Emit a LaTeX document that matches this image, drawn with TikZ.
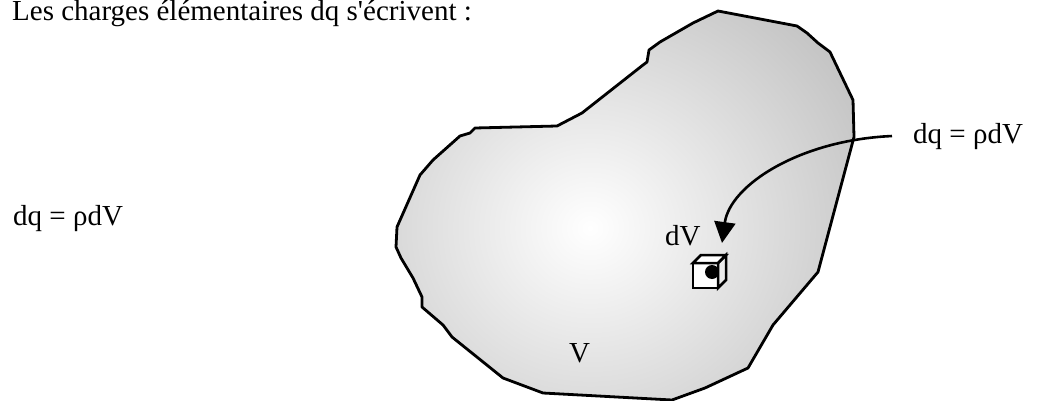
\documentclass[tikz,border=0pt]{standalone}
\usepackage{fontspec}
\setmainfont{Liberation Serif}
\usetikzlibrary{arrows.meta}
\begin{document}
\begin{tikzpicture}[x=1pt,y=-1pt,
  lbl/.style={inner sep=0pt, anchor=base west, font=\fontsize{29}{34}\selectfont},
  ttl/.style={inner sep=0pt, anchor=base west, font=\fontsize{29}{34}\selectfont},
  outline/.style={line width=2.8pt, line join=round},
  cubeline/.style={line width=2.5pt, line join=miter},
  conn/.style={line width=2.6pt, -{Triangle[length=21pt,width=21pt]}}]
\useasboundingbox (0,0) rectangle (1038,401);
% volume V
\path[draw, outline, path picture={
    \shade[inner color=white, outer color=black!25] (590,228) ellipse [x radius=330pt, y radius=310pt];}]
  (718,11) -- (797,26) -- (807,33) -- (818,43) -- (830,52) -- (853,100) -- (854,137)
  -- (818,272) -- (773,325) -- (748,368) -- (705,388) -- (672,400) -- (543,393)
  -- (503,378) -- (452,337) -- (443,325) -- (422,307) -- (422,297) -- (413,278)
  -- (401,258) -- (396,247) -- (397,227) -- (420,175) -- (433,160) -- (460,136)
  -- (470,133) -- (475,128) -- (557,126) -- (582,113) -- (643,65) -- (647,62)
  -- (649,50) -- (660,42) -- (693,23) -- cycle;
% texts
\node[ttl] (title) at (12,21) {Les charges élémentaires dq s\textquotesingle écrivent :};
\node[lbl] (eq) at (13,225) {dq = ρdV};
\node[lbl] (r) at (913,143) {dq = ρdV};
\node[lbl] (dv) at (665,245) {dV};
\node[lbl] (vol) at (569,362) {V};
% cube dV
\fill[white] (693,263) rectangle (718,288);
\fill[black] (712,272) circle[radius=7pt];
\filldraw[fill=black!8, cubeline] (718,263) -- (726,255) -- (726,280) -- (718,288) -- cycle;
\filldraw[fill=white, cubeline] (693,263) -- (701,255) -- (726,255) -- (718,263) -- cycle;
\draw[cubeline] (693,263) rectangle (718,288);
% arrow
\coordinate (tip) at (722,243);
\coordinate (start) at ([xshift=-21pt]r.west);
\draw[conn] (start) .. controls (800,140) and (730,185) .. (tip);
\end{tikzpicture}
\end{document}
